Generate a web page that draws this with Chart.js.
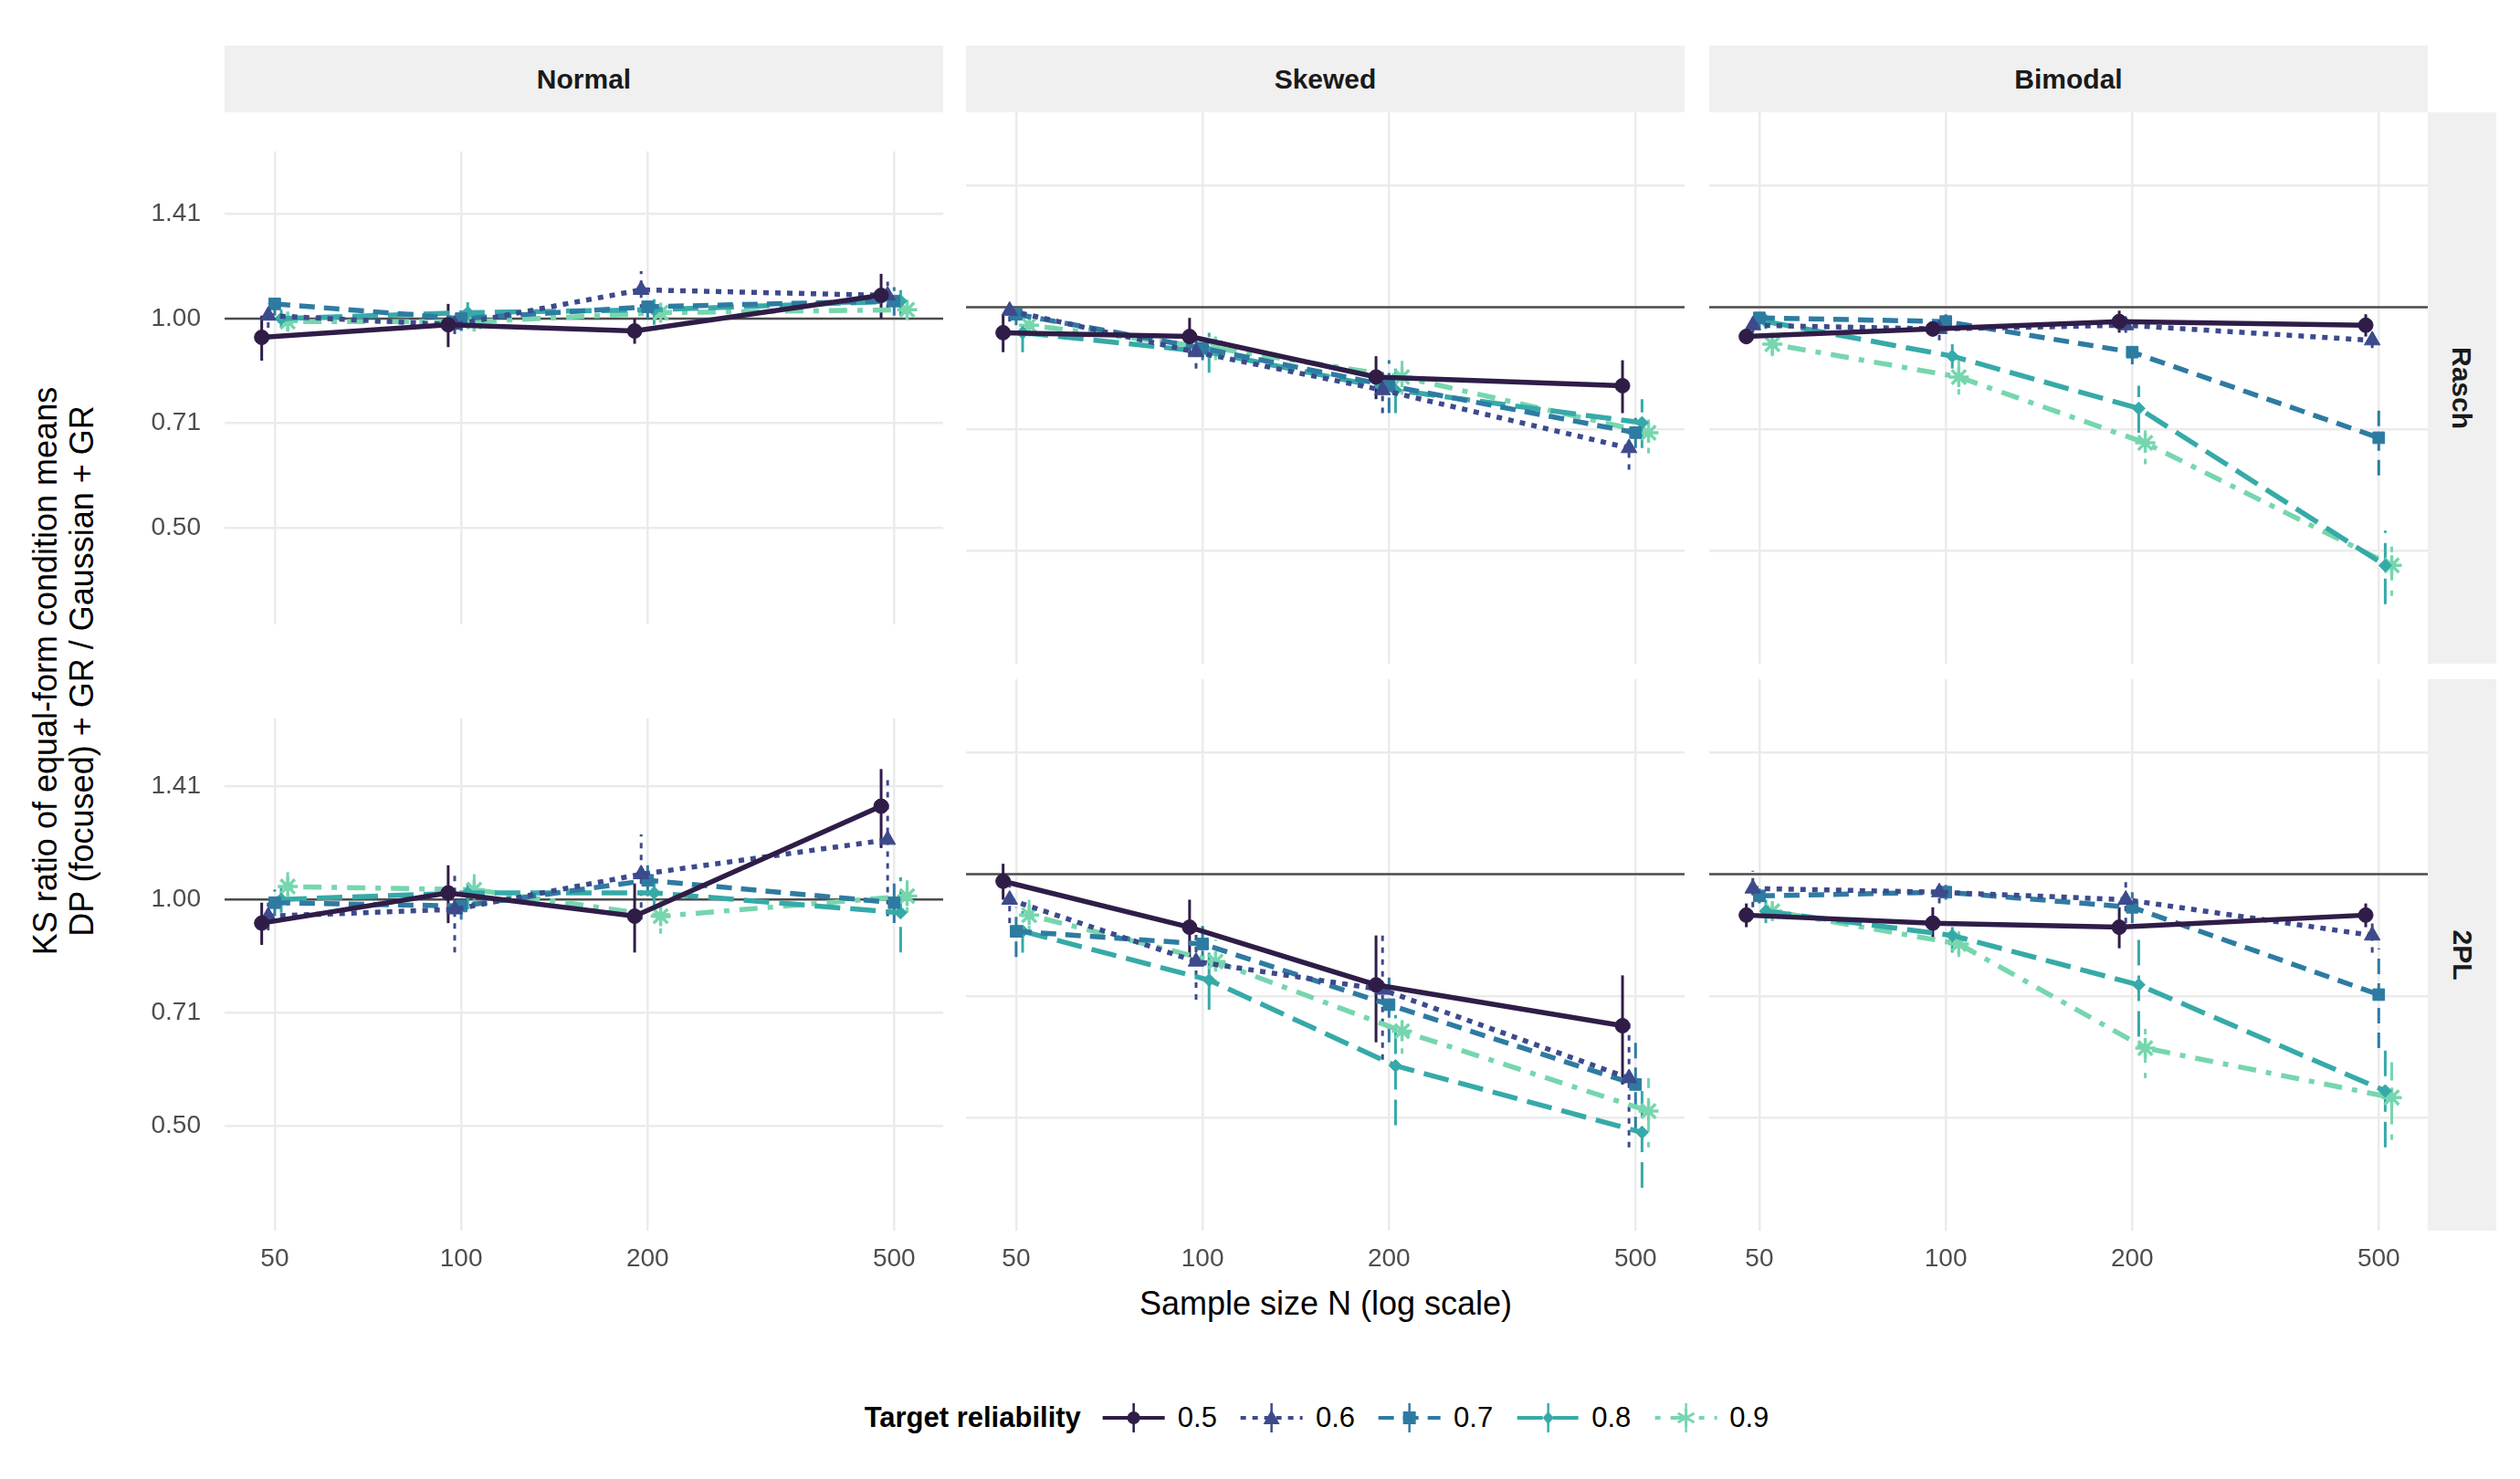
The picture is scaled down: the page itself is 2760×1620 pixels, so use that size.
<!DOCTYPE html>
<html>
<head>
<meta charset="utf-8">
<script src="https://cdn.jsdelivr.net/npm/chart.js@4.4.1/dist/chart.umd.min.js"></script>
<style>
  body { margin: 0; width: 2760px; height: 1620px; background: #fff; font-family: "Liberation Sans", Arial, sans-serif; position: relative; overflow: hidden; }
  .box { position: absolute; }
  .strip { position: absolute; background: #f0f0f0; color: #1a1a1a; font-weight: bold; font-size: 30px; display: flex; align-items: center; justify-content: center; }
  .rstrip span { transform: rotate(90deg); white-space: nowrap; }
  .ytitle { position: absolute; left: 70px; top: 735px; transform: translate(-50%, -50%) rotate(-90deg); font-size: 36px; text-align: center; line-height: 40px; white-space: nowrap; color: #000; }
  .xtitle { position: absolute; left: 1452px; top: 1428px; transform: translate(-50%, -50%); font-size: 36px; white-space: nowrap; }
  .legend { position: absolute; top: 1553px; left: 1452px; transform: translate(-50%, -50%); display: flex; align-items: center; font-size: 31px; white-space: nowrap; }
  .legend b { margin-right: 18px; }
  .legend .it { display: flex; align-items: center; margin-right: 20px; }
  .legend svg { margin-right: 8px; }
</style>
</head>
<body>
<div class="ytitle">KS ratio of equal-form condition means<br>DP (focused) + GR / Gaussian + GR</div>
<div class="xtitle">Sample size N (log scale)</div>
<div class="legend" id="legend"><b>Target reliability</b></div>
<script>
// ---- data ----
const sampleSizes = [50, 100, 200, 500];
const reliabilities = ["0.5", "0.6", "0.7", "0.8", "0.9"];
const distributions = ["Normal", "Skewed", "Bimodal"];
const models = ["Rasch", "2PL"];
const yTickValues = [0.5, 0.7071, 1, 1.4142];
const yTickLabels = ["0.50", "0.71", "1.00", "1.41"];

// rows = reliabilities, columns = sample sizes
const normalRasch = [
  [0.94, 0.98, 0.96, 1.08],
  [1.01, 0.98, 1.10, 1.08],
  [1.05, 1.00, 1.04, 1.06],
  [1.00, 1.02, 1.03, 1.06],
  [0.99, 0.99, 1.02, 1.03]];
const normalRaschErr = [
  [0.07, 0.07, 0.04, 0.08],
  [0.04, 0.03, 0.07, 0.05],
  [0.04, 0.04, 0.04, 0.05],
  [0.03, 0.05, 0.05, 0.05],
  [0.03, 0.03, 0.03, 0.03]];
const skewedRasch = [
  [0.93, 0.92, 0.82, 0.80],
  [0.99, 0.88, 0.79, 0.67],
  [0.98, 0.89, 0.80, 0.70],
  [0.93, 0.88, 0.79, 0.72],
  [0.95, 0.89, 0.82, 0.70]];
const skewedRaschErr = [
  [0.05, 0.05, 0.05, 0.06],
  [0.03, 0.04, 0.05, 0.04],
  [0.03, 0.03, 0.06, 0.03],
  [0.05, 0.05, 0.05, 0.05],
  [0.03, 0.03, 0.04, 0.04]];
const bimodalRasch = [
  [0.92, 0.94, 0.96, 0.95],
  [0.95, 0.94, 0.95, 0.91],
  [0.97, 0.96, 0.88, 0.69],
  [0.96, 0.87, 0.75, 0.48],
  [0.90, 0.82, 0.68, 0.48]];
const bimodalRaschErr = [
  [0.02, 0.02, 0.03, 0.03],
  [0.02, 0.03, 0.02, 0.02],
  [0.03, 0.02, 0.03, 0.07],
  [0.02, 0.03, 0.05, 0.05],
  [0.03, 0.04, 0.04, 0.04]];
const normal2PL = [
  [0.93, 1.02, 0.95, 1.33],
  [0.95, 0.97, 1.08, 1.20],
  [0.99, 0.98, 1.06, 0.99],
  [1.00, 1.02, 1.02, 0.96],
  [1.04, 1.03, 0.95, 1.01]];
const normal2PLErr = [
  [0.06, 0.09, 0.10, 0.16],
  [0.04, 0.12, 0.14, 0.25],
  [0.04, 0.04, 0.05, 0.06],
  [0.04, 0.05, 0.04, 0.11],
  [0.06, 0.05, 0.05, 0.05]];
const skewed2PL = [
  [0.98, 0.86, 0.73, 0.65],
  [0.93, 0.78, 0.72, 0.56],
  [0.85, 0.82, 0.69, 0.55],
  [0.85, 0.74, 0.58, 0.48],
  [0.89, 0.78, 0.64, 0.51]];
const skewed2PLErr = [
  [0.05, 0.07, 0.11, 0.10],
  [0.06, 0.08, 0.13, 0.10],
  [0.06, 0.05, 0.07, 0.07],
  [0.05, 0.06, 0.09, 0.07],
  [0.04, 0.05, 0.04, 0.05]];
const bimodal2PL = [
  [0.89, 0.87, 0.86, 0.89],
  [0.96, 0.95, 0.93, 0.84],
  [0.94, 0.95, 0.91, 0.71],
  [0.90, 0.84, 0.73, 0.54],
  [0.90, 0.82, 0.61, 0.53]];
const bimodal2PLErr = [
  [0.03, 0.04, 0.05, 0.03],
  [0.05, 0.03, 0.06, 0.04],
  [0.02, 0.02, 0.04, 0.10],
  [0.03, 0.04, 0.10, 0.08],
  [0.02, 0.03, 0.05, 0.06]];

const panelValues = [[normalRasch, skewedRasch, bimodalRasch], [normal2PL, skewed2PL, bimodal2PL]];
const panelErrors = [[normalRaschErr, skewedRaschErr, bimodalRaschErr], [normal2PLErr, skewed2PLErr, bimodal2PLErr]];

// ---- styles ----
const colors = ["#2f1d48", "#3d4a8b", "#2e7ba2", "#36aaa8", "#76d6ae"];
const dashes = [[], [6, 7], [17, 10], [28, 11], [6, 11, 20, 11]];
const shapes = ["circle", "triangle", "rect", "rectRot", "star"];
const pointSizes = [8, 10, 9, 7, 11];

const panelLeft = [246, 1058, 1872], panelW = 787;
const panelTop = [123, 744], panelH = 604;
const yAxisW = 146, xAxisH = 70;

function el(cls, css, html) {
  const d = document.createElement("div");
  d.className = cls; Object.assign(d.style, css);
  if (html) d.innerHTML = html;
  document.body.appendChild(d); return d;
}
distributions.forEach((d, c) => el("strip", {left: panelLeft[c] + "px", top: "50px", width: panelW + "px", height: "73px"}, d));
models.forEach((m, r) => el("strip rstrip", {left: "2659px", top: panelTop[r] + "px", width: "75px", height: panelH + "px"}, "<span>" + m + "</span>"));

const refLine = {
  id: "refLine",
  beforeDatasetsDraw(chart) {
    const {ctx, chartArea: a, scales: {y}} = chart;
    const py = y.getPixelForValue(1);
    ctx.save(); ctx.strokeStyle = "#4d4d4d"; ctx.lineWidth = 2.5;
    ctx.beginPath(); ctx.moveTo(a.left, py); ctx.lineTo(a.right, py); ctx.stroke(); ctx.restore();
  }
};
const errorBars = {
  id: "errorBars",
  beforeDatasetsDraw(chart) {
    const {ctx, scales: {x, y}} = chart;
    chart.data.datasets.forEach(ds => {
      ctx.save(); ctx.strokeStyle = ds.borderColor; ctx.lineWidth = 3; ctx.setLineDash(ds.borderDash);
      ds.data.forEach(p => {
        const px = x.getPixelForValue(p.x);
        ctx.beginPath(); ctx.moveTo(px, y.getPixelForValue(p.y - p.e)); ctx.lineTo(px, y.getPixelForValue(p.y + p.e)); ctx.stroke();
      });
      ctx.restore();
    });
  }
};

models.forEach((m, r) => distributions.forEach((d, c) => {
  const left = c === 0, bottom = r === 1;
  const box = el("box", {
    left: (panelLeft[c] - (left ? yAxisW : 0)) + "px", top: panelTop[r] + "px",
    width: (panelW + (left ? yAxisW : 0)) + "px", height: (panelH + (bottom ? xAxisH : 0)) + "px"});
  const cv = document.createElement("canvas"); box.appendChild(cv);
  const datasets = reliabilities.map((rel, i) => ({
    label: rel,
    data: sampleSizes.map((n, j) => ({x: n * Math.pow(10, (i - 2) * 0.0105), y: panelValues[r][c][i][j], e: panelErrors[r][c][i][j]})),
    borderColor: colors[i], backgroundColor: colors[i], borderWidth: 5.5, borderDash: dashes[i],
    pointStyle: shapes[i], pointRadius: pointSizes[i], pointBorderWidth: i === 4 ? 3.5 : 1, clip: false, tension: 0
  }));
  new Chart(cv, {
    type: "line",
    data: {datasets},
    plugins: [refLine, errorBars],
    options: {
      responsive: true, maintainAspectRatio: false, animation: false, devicePixelRatio: 1,
      layout: {padding: 0, autoPadding: false},
      plugins: {legend: {display: false}, tooltip: {enabled: false}},
      scales: {
        x: {
          type: "logarithmic", min: 41.5, max: 600, bounds: "data",
          afterBuildTicks: s => { s.ticks = sampleSizes.map(v => ({value: v})); },
          afterFit: s => { s.height = bottom ? xAxisH : 0; },
          ticks: {display: bottom, color: "#4d4d4d", font: {size: 28, family: "Liberation Sans"}, padding: 14, maxRotation: 0, callback: v => String(v)},
          grid: {color: "#ebebeb", lineWidth: 2.5, drawTicks: false}, border: {display: false}
        },
        y: {
          type: "logarithmic", min: 0.363, max: 1.74, bounds: "data",
          afterBuildTicks: s => { s.ticks = yTickValues.map(v => ({value: v})); },
          afterFit: s => { s.width = left ? yAxisW : 0; },
          ticks: {display: left, color: "#4d4d4d", font: {size: 28, family: "Liberation Sans"}, padding: 26,
            callback: v => yTickLabels[yTickValues.indexOf(v)]},
          grid: {color: "#ebebeb", lineWidth: 2.5, drawTicks: false}, border: {display: false}
        }
      }
    }
  });
}));

// legend
const leg = document.getElementById("legend");
const svgShape = i => {
  const c = colors[i];
  if (i === 0) return `<circle cx="40" cy="20" r="7" fill="${c}"/>`;
  if (i === 1) return `<polygon points="40,11 49,27 31,27" fill="${c}"/>`;
  if (i === 2) return `<rect x="33" y="13" width="14" height="14" fill="${c}"/>`;
  if (i === 3) return `<polygon points="40,13 46,20 40,27 34,20" fill="${c}"/>`;
  return `<g stroke="${c}" stroke-width="3"><line x1="40" y1="10" x2="40" y2="30"/><line x1="31" y1="15" x2="49" y2="25"/><line x1="31" y1="25" x2="49" y2="15"/></g>`;
};
reliabilities.forEach((rel, i) => {
  const it = document.createElement("span"); it.className = "it";
  it.innerHTML = `<svg width="80" height="40"><line x1="6" y1="20" x2="74" y2="20" stroke="${colors[i]}" stroke-width="4" stroke-dasharray="${dashes[i].join(",") || "none"}"/><line x1="40" y1="4" x2="40" y2="36" stroke="${colors[i]}" stroke-width="2.5"/>${svgShape(i)}</svg>${rel}`;
  leg.appendChild(it);
});
</script>
</body>
</html>
